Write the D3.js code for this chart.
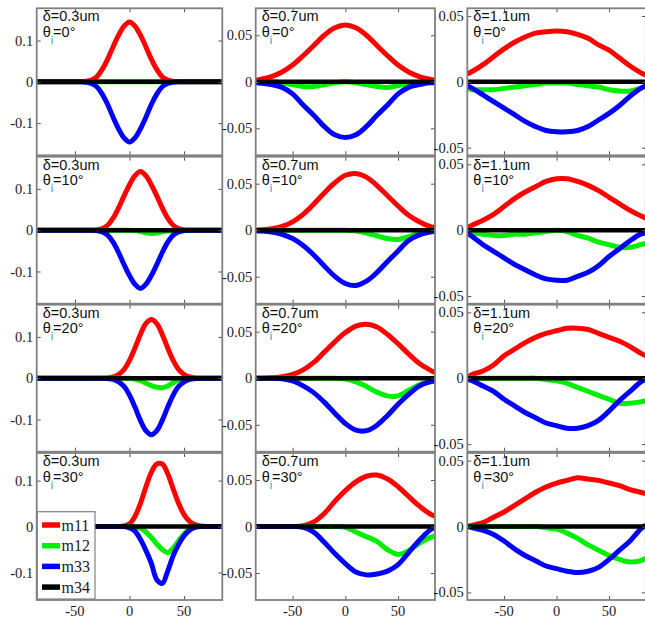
<!DOCTYPE html>
<html><head><meta charset="utf-8">
<script src="https://cdn.jsdelivr.net/npm/d3@7"></script>
<style>body{margin:0;background:#fff}</style>
</head><body>
<svg id="c" width="645" height="618"></svg>
<script>
// ---------- DATA ----------
const deltas = ["0.3", "0.7", "1.1"];
const thetas = ["0", "10", "20", "30"];
const seriesNames = ["m11", "m12", "m33", "m34"];
const seriesColors = ["#ff0000", "#00ee00", "#0000ff", "#000000"];
const xTicks = [-50, 0, 50];
const yTicks03 = [-0.1, 0, 0.1];
const yTicks07 = [-0.05, 0, 0.05];
const yTicks11 = [-0.05, 0, 0.05];

// x positions (col delta=0.3 uses step 5; others step 10)
const x03 = [-85,-80,-75,-70,-65,-60,-55,-50,-45,-40,-35,-30,-25,-20,-15,-10,-5,0,5,10,15,20,25,30,35,40,45,50,55,60,65,70,75,80,85];
const x07 = [-85,-80,-70,-60,-50,-40,-30,-20,-10,0,10,20,30,40,50,60,70,80,85];
const x11 = [-85,-80,-70,-60,-50,-40,-30,-20,-10,0,10,20,30,40,50,60,70,80,85];

// delta = 0.3um, rows theta = 0,10,20,30
const m11_03 = [
 [0,0,0,0,0,0,0,0,0,0.001,0.004,0.012,0.030,0.055,0.085,0.113,0.135,0.145,0.135,0.113,0.085,0.055,0.030,0.012,0.004,0.001,0,0,0,0,0,0,0,0,0],
 [0,0,0,0,0,0,0,0,0,0,0,0.001,0.004,0.012,0.029,0.054,0.083,0.110,0.132,0.142,0.132,0.110,0.083,0.054,0.029,0.012,0.004,0.001,0,0,0,0,0,0,0],
 [0,0,0,0,0,0,0,0,0,0,0,0,0,0.001,0.003,0.009,0.021,0.043,0.073,0.106,0.132,0.142,0.132,0.106,0.073,0.043,0.021,0.009,0.003,0.001,0,0,0,0,0],
 [0,0,0,0,0,0,0,0,0,0,0,0,0,0,0,0,0.001,0.006,0.022,0.050,0.086,0.118,0.136,0.136,0.115,0.082,0.050,0.026,0.011,0.004,0.001,0,0,0,0]
];
const m12_03 = [
 [0,0,0,0,0,0,0,0,0,0,0,0,0,0,0,0,0,0,0,0,0,0,0,0,0,0,0,0,0,0,0,0,0,0,0],
 [0,0,0,0,0,0,0,0,0,0,0,0,0,0,0,0,0,0,-0.001,-0.003,-0.006,-0.008,-0.007,-0.004,-0.002,-0.001,0,0,0,0,0,0,0,0,0],
 [0,0,0,0,0,0,0,0,0,0,0,0,0,0,0,0,0,0,-0.002,-0.006,-0.012,-0.018,-0.022,-0.023,-0.019,-0.011,-0.004,-0.001,0,0,0,0,0,0,0],
 [0,0,0,0,0,0,0,0,0,0,0,0,0,0,0,0,0,0,-0.001,-0.004,-0.012,-0.024,-0.038,-0.050,-0.057,-0.047,-0.031,-0.016,-0.005,-0.001,0,0,0,0,0]
];
const m33_03 = [
 [0,0,0,0,0,0,0,0,0,-0.001,-0.004,-0.012,-0.030,-0.055,-0.086,-0.114,-0.136,-0.146,-0.136,-0.114,-0.086,-0.055,-0.030,-0.012,-0.004,-0.001,0,0,0,0,0,0,0,0,0],
 [0,0,0,0,0,0,0,0,0,0,0,-0.001,-0.004,-0.012,-0.029,-0.054,-0.083,-0.110,-0.131,-0.141,-0.131,-0.110,-0.083,-0.054,-0.029,-0.012,-0.004,-0.001,0,0,0,0,0,0,0],
 [0,0,0,0,0,0,0,0,0,0,0,0,0,-0.001,-0.003,-0.009,-0.020,-0.041,-0.070,-0.102,-0.127,-0.137,-0.127,-0.102,-0.070,-0.041,-0.020,-0.009,-0.003,-0.001,0,0,0,0,0],
 [0,0,0,0,0,0,0,0,0,0,0,0,0,0,0,0,0,-0.003,-0.010,-0.028,-0.052,-0.080,-0.116,-0.124,-0.097,-0.064,-0.039,-0.020,-0.008,-0.002,0,0,0,0,0]
];
const m34_03 = [0,0,0,0,0,0,0,0,0,0,0,0,0,0,0,0,0,0,0,0,0,0,0,0,0,0,0,0,0,0,0,0,0,0,0];

// delta = 0.7um
const m11_07 = [
 [0.0018,0.0027,0.0056,0.0105,0.018,0.028,0.039,0.050,0.058,0.061,0.058,0.050,0.039,0.028,0.018,0.0105,0.0056,0.0027,0.0018],
 [0.0003,0.0005,0.0015,0.004,0.009,0.017,0.028,0.040,0.051,0.059,0.061,0.057,0.048,0.037,0.026,0.016,0.009,0.004,0.003],
 [0,0,0.0005,0.0015,0.004,0.009,0.017,0.028,0.039,0.049,0.056,0.058,0.055,0.047,0.037,0.026,0.016,0.009,0.006],
 [0,0,0,0,0,0.0008,0.005,0.014,0.027,0.0386,0.048,0.054,0.0553,0.051,0.0427,0.0323,0.0221,0.0137,0.011]
];
const m12_07 = [
 [0,0,0,-0.001,-0.003,-0.005,-0.005,-0.003,-0.001,0,-0.001,-0.003,-0.005,-0.006,-0.004,-0.002,-0.001,0,0],
 [0,0,0,0,0,0,0,0,0,0,-0.001,-0.003,-0.006,-0.009,-0.010,-0.007,-0.003,-0.001,0],
 [0,0,0,0,0,0,0,0,0,-0.001,-0.004,-0.009,-0.015,-0.019,-0.019,-0.013,-0.007,-0.004,-0.003],
 [0,0,0,0,0,0,0,0,0,-0.001,-0.006,-0.011,-0.016,-0.025,-0.030,-0.026,-0.018,-0.012,-0.010]
];
const m33_07 = [
 [-0.001,-0.0015,-0.003,-0.006,-0.013,-0.025,-0.036,-0.048,-0.057,-0.060,-0.057,-0.048,-0.036,-0.025,-0.013,-0.006,-0.003,-0.001,-0.001],
 [-0.0005,-0.0008,-0.002,-0.0045,-0.009,-0.0165,-0.0266,-0.0384,-0.0496,-0.0573,-0.0594,-0.0548,-0.0454,-0.0336,-0.0223,-0.011,-0.005,-0.002,-0.001],
 [0,0,0,-0.0005,-0.003,-0.0083,-0.0155,-0.0257,-0.0376,-0.0487,-0.0558,-0.0564,-0.0505,-0.040,-0.028,-0.0173,-0.0085,-0.004,-0.003],
 [0,0,0,0,0,-0.001,-0.006,-0.017,-0.029,-0.040,-0.049,-0.052,-0.051,-0.048,-0.041,-0.028,-0.015,-0.004,-0.001]
];
const m34_07 = [0,0,0,0,0,0,0,0,0,0,0,0,0,0,0,0,0,0,0];

// delta = 1.1um
const m11_11 = [
 [0.006,0.008,0.013,0.019,0.025,0.030,0.034,0.037,0.038,0.0385,0.038,0.036,0.033,0.028,0.024,0.018,0.012,0.007,0.005],
 [0.002,0.004,0.0075,0.012,0.018,0.024,0.029,0.033,0.037,0.039,0.039,0.037,0.034,0.030,0.025,0.020,0.015,0.011,0.009],
 [0.001,0.003,0.0055,0.010,0.017,0.022,0.027,0.031,0.034,0.036,0.038,0.038,0.037,0.034,0.031,0.028,0.024,0.019,0.017],
 [0,0.001,0.003,0.007,0.011,0.016,0.021,0.026,0.030,0.033,0.035,0.037,0.036,0.035,0.033,0.031,0.028,0.026,0.025]
];
const m12_11 = [
 [-0.005,-0.006,-0.006,-0.006,-0.005,-0.004,-0.003,-0.002,-0.001,-0.001,-0.001,-0.002,-0.003,-0.004,-0.006,-0.007,-0.007,-0.005,-0.004],
 [-0.001,-0.002,-0.003,-0.004,-0.004,-0.003,-0.003,-0.002,-0.001,0,-0.001,-0.004,-0.006,-0.009,-0.011,-0.013,-0.013,-0.011,-0.010],
 [0,0,0,0,0,0,0,0,-0.001,-0.002,-0.004,-0.007,-0.010,-0.013,-0.016,-0.019,-0.019,-0.018,-0.017],
 [0,0,0,0,0,0,0,0,-0.001,-0.002,-0.005,-0.009,-0.014,-0.018,-0.022,-0.025,-0.027,-0.026,-0.024]
];
const m33_11 = [
 [-0.003,-0.005,-0.010,-0.015,-0.020,-0.025,-0.030,-0.034,-0.037,-0.038,-0.038,-0.037,-0.034,-0.029,-0.024,-0.018,-0.011,-0.005,-0.003],
 [-0.002,-0.005,-0.011,-0.016,-0.021,-0.026,-0.030,-0.034,-0.037,-0.038,-0.038,-0.035,-0.032,-0.027,-0.020,-0.014,-0.008,-0.003,-0.002],
 [-0.001,-0.002,-0.006,-0.010,-0.016,-0.021,-0.026,-0.030,-0.034,-0.036,-0.038,-0.038,-0.036,-0.032,-0.025,-0.017,-0.010,-0.003,-0.001],
 [0,-0.001,-0.003,-0.006,-0.011,-0.017,-0.022,-0.026,-0.030,-0.032,-0.034,-0.035,-0.034,-0.031,-0.025,-0.018,-0.011,-0.002,0.001]
];
const m34_11 = [0,0,0,0,0,0,0,0,0,0,0,0,0,0,0,0,0,0,0];

// ---------- LAYOUT ----------
const colLeft = [36.7, 255.7, 467.3];
const colWidth = [185.6, 179.3, 178.5];
const rowTop = [8.3, 156.7, 304.7, 453];
const rowHeight = 147;
const yLim = [[0.178, 0.178, 0.178, 0.16], [0.079, 0.079, 0.079, 0.079], [0.0558, 0.0558, 0.0558, 0.0558]];

const columns = [
  {x: x03, s: [m11_03, m12_03, m33_03], z: m34_03, ticks: yTicks03},
  {x: x07, s: [m11_07, m12_07, m33_07], z: m34_07, ticks: yTicks07},
  {x: x11, s: [m11_11, m12_11, m33_11], z: m34_11, ticks: yTicks11}
];

const svg = d3.select("#c");
const serif = "Liberation Serif, Times New Roman, serif";
const sans = "Liberation Sans, Arial, sans-serif";

columns.forEach((col, ci) => {
  thetas.forEach((th, ri) => {
    const x0 = colLeft[ci], y0 = rowTop[ri], w = colWidth[ci], h = rowHeight;
    const xs = d3.scaleLinear().domain([-85, 85]).range([x0, x0 + w]);
    const lim = yLim[ci][ri];
    const ys = d3.scaleLinear().domain([-lim, lim]).range([y0 + h, y0]);
    const g = svg.append("g");
    const clipId = `clip${ci}_${ri}`;
    g.append("clipPath").attr("id", clipId).append("rect")
      .attr("x", x0).attr("y", y0).attr("width", w).attr("height", h);
    g.append("rect").attr("x", x0).attr("y", y0).attr("width", w).attr("height", h).attr("fill", "#fff");

    const line = d3.line().x(d => xs(d[0])).y(d => ys(d[1])).curve(d3.curveCatmullRom);
    const plot = g.append("g").attr("clip-path", `url(#${clipId})`);
    const all = [col.s[0][ri], col.s[1][ri], col.s[2][ri], col.z];
    all.forEach((vals, si) => {
      plot.append("path")
        .attr("d", line(col.x.map((xv, i) => [xv, vals[i]])))
        .attr("fill", "none").attr("stroke", seriesColors[si])
        .attr("stroke-width", si === 3 ? 4.5 : 5)
        .attr("stroke-linejoin", "round");
    });

    // axes (inward ticks on all sides)
    const axL = d3.axisLeft(ys).tickValues(col.ticks).tickSize(-4).tickFormat("");
    const axR = d3.axisRight(ys).tickValues(col.ticks).tickSize(-4).tickFormat("");
    const axT = d3.axisTop(xs).tickValues(xTicks).tickSize(-4).tickFormat("");
    const axB = d3.axisBottom(xs).tickValues(xTicks).tickSize(-4).tickFormat("");
    [[axL, `translate(${x0},0)`], [axR, `translate(${x0 + w},0)`], [axT, `translate(0,${y0})`], [axB, `translate(0,${y0 + h})`]]
      .forEach(([ax, tr]) => {
        const a = g.append("g").attr("transform", tr).call(ax);
        a.select(".domain").remove();
        a.selectAll("line").attr("stroke", "#555").attr("stroke-width", 1);
      });
    g.append("rect").attr("x", x0).attr("y", y0).attr("width", w).attr("height", h)
      .attr("fill", "none").attr("stroke", "#808080").attr("stroke-width", 1.8);

    // y tick labels
    col.ticks.forEach(t => {
      g.append("text").attr("x", x0 - 3.5).attr("y", ys(t)).attr("dy", "0.35em")
        .attr("text-anchor", "end").style("font-family", serif).attr("font-size", 14.5)
        .attr("fill", "#1a1a1a").text(t === 0 ? "0" : String(t));
    });
    // x tick labels (bottom row)
    if (ri === thetas.length - 1) {
      xTicks.forEach(t => {
        g.append("text").attr("x", xs(t)).attr("y", 616)
          .attr("text-anchor", "middle").style("font-family", serif).attr("font-size", 14.5)
          .attr("fill", "#1a1a1a").text(String(t));
      });
    }
    // annotation
    g.append("text").attr("x", x0 + 6).attr("y", y0 + 13)
      .style("font-family", sans).attr("font-size", 14.5).attr("fill", "#111")
      .text(`δ=${deltas[ci]}um`);
    const t2 = g.append("text").attr("x", x0 + 6).attr("y", y0 + 28.5)
      .style("font-family", sans).attr("font-size", 14.5).attr("fill", "#111");
    t2.append("tspan").text("θ");
    t2.append("tspan").attr("dy", 7).attr("font-size", 10.5).attr("fill", "#2a8fd0").text("i");
    t2.append("tspan").attr("dy", -7).text(`=${th}°`);
  });
});

// legend in bottom-left panel
const lg = svg.append("g");
lg.append("rect").attr("x", 37.3).attr("y", 511.7).attr("width", 57.7).attr("height", 87.3)
  .attr("fill", "#fff").attr("stroke", "#808080").attr("stroke-width", 1.2);
seriesNames.forEach((name, i) => {
  const ly = 525 + i * 20.7;
  lg.append("line").attr("x1", 42).attr("x2", 60).attr("y1", ly).attr("y2", ly)
    .attr("stroke", seriesColors[i]).attr("stroke-width", 5.5);
  lg.append("text").attr("x", 61.5).attr("y", ly + 5.5).style("font-family", serif)
    .attr("font-size", 16).attr("fill", "#1a1a1a").text(name);
});
</script></body></html>
